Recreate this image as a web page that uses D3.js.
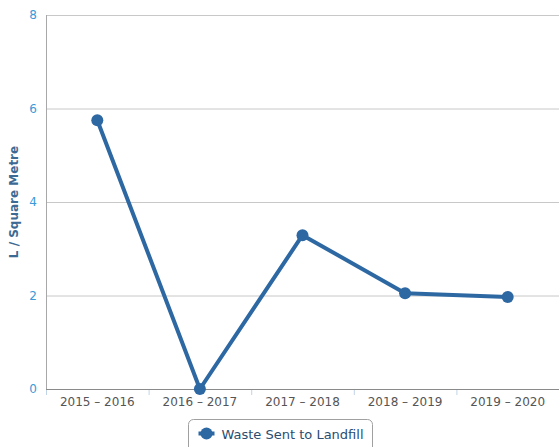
<!DOCTYPE html>
<html>
<head>
<meta charset="utf-8">
<script src="https://cdn.jsdelivr.net/npm/d3@7"></script>
<style>
  body { margin: 0; background: #fff; font-family: "DejaVu Sans", sans-serif; }
</style>
</head>
<body>
<script>
// chart data
const categories = ["2015 - 2016", "2016 - 2017", "2017 - 2018", "2018 - 2019", "2019 - 2020"];
const landfill = [5.75, 0, 3.29, 2.05, 1.97];
const yTicks = [0, 2, 4, 6, 8];
const seriesName = "Waste Sent to Landfill";

const w = 559, h = 447;
const plotLeft = 46, plotRight = 559, plotTop = 15, plotBottom = 389;

const svg = d3.select("body").append("svg")
    .attr("width", w)
    .attr("height", h);

const x = d3.scaleBand().domain(categories).range([plotLeft, plotRight]);
const y = d3.scaleLinear().domain([0, 8]).range([plotBottom, plotTop]);

// grid lines
svg.selectAll("line.grid")
    .data(yTicks.filter(d => d > 0))
    .enter().append("line")
    .attr("x1", plotLeft).attr("x2", plotRight)
    .attr("y1", d => y(d) + 0.5).attr("y2", d => y(d) + 0.5)
    .attr("stroke", "#c8c8c8").attr("stroke-width", 1);

// left axis line
svg.append("line")
    .attr("x1", plotLeft + 0.5).attr("x2", plotLeft + 0.5)
    .attr("y1", plotTop).attr("y2", plotBottom)
    .attr("stroke", "#a8a8a8");

// y tick labels
svg.selectAll("text.ylab")
    .data(yTicks)
    .enter().append("text")
    .attr("x", 37)
    .attr("y", d => y(d) + 4)
    .attr("text-anchor", "end")
    .attr("fill", "#3a9ad9")
    .style("font-size", "12px")
    .text(d => d);

// y axis title
svg.append("text")
    .attr("transform", `translate(18, ${(plotTop + plotBottom) / 2}) rotate(-90)`)
    .attr("text-anchor", "middle")
    .attr("fill", "#3d6a94")
    .style("font-size", "12px")
    .style("font-weight", "bold")
    .text("L / Square Metre");

// x axis
const xAxis = svg.append("g")
    .attr("transform", `translate(0, ${plotBottom})`);
xAxis.append("line")
    .attr("x1", plotLeft).attr("x2", plotRight)
    .attr("y1", 0.5).attr("y2", 0.5)
    .attr("stroke", "#8a8a8a");
xAxis.selectAll("line.tick")
    .data(categories)
    .enter().append("line")
    .attr("x1", d => x(d) + 0.5).attr("x2", d => x(d) + 0.5)
    .attr("y1", 1).attr("y2", 6)
    .attr("stroke", "#c0d4e8");
xAxis.selectAll("text")
    .data(categories)
    .enter().append("text")
    .attr("x", d => x(d) + x.bandwidth() / 2)
    .attr("y", 17)
    .attr("text-anchor", "middle")
    .attr("fill", "#555")
    .style("font-size", "12px")
    .text(d => d.replace("-", "\u2013"));

// line
const line = d3.line()
    .x((d, i) => x(categories[i]) + x.bandwidth() / 2)
    .y(d => y(d));

svg.append("path")
    .datum(landfill)
    .attr("d", line)
    .attr("fill", "none")
    .attr("stroke", "#2d68a3")
    .attr("stroke-width", 4)
    .attr("stroke-linejoin", "round");

svg.selectAll("circle.pt")
    .data(landfill)
    .enter().append("circle")
    .attr("cx", (d, i) => x(categories[i]) + x.bandwidth() / 2)
    .attr("cy", d => y(d))
    .attr("r", 6)
    .attr("fill", "#2d68a3");

// legend
const legend = svg.append("g").attr("transform", "translate(188.5, 419.5)");
legend.append("rect")
    .attr("width", 184).attr("height", 34)
    .attr("rx", 5)
    .attr("fill", "#fff")
    .attr("stroke", "#a0a0a0");
legend.append("line")
    .attr("x1", 10).attr("x2", 26)
    .attr("y1", 14).attr("y2", 14)
    .attr("stroke", "#2d68a3").attr("stroke-width", 4);
legend.append("circle")
    .attr("cx", 18).attr("cy", 14).attr("r", 6)
    .attr("fill", "#2d68a3");
legend.append("text")
    .attr("x", 33).attr("y", 19)
    .attr("fill", "#2a4d70")
    .style("font-size", "13px")
    .text(seriesName);
</script>
</body>
</html>
